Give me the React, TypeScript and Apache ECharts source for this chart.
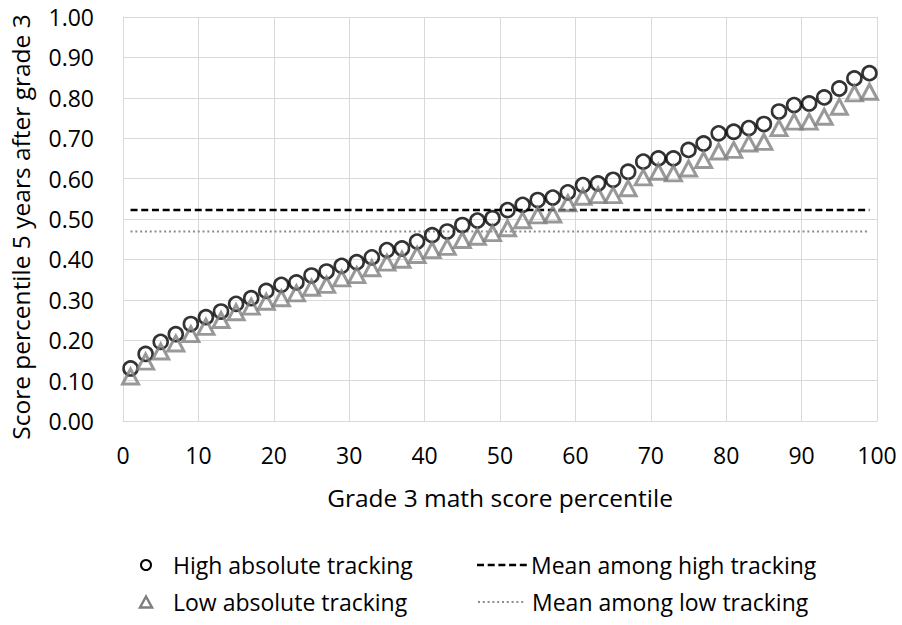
import React, { useEffect, useRef } from "react";
import * as echarts from "echarts";

const percentiles = [
  1, 3, 5, 7, 9, 11, 13, 15, 17, 19, 21, 23, 25, 27, 29, 31, 33, 35, 37, 39, 41, 43, 45, 47, 49,
  51, 53, 55, 57, 59, 61, 63, 65, 67, 69, 71, 73, 75, 77, 79, 81, 83, 85, 87, 89, 91, 93, 95, 97, 99,
];

const highTracking = [
  0.130, 0.166, 0.196, 0.215, 0.240, 0.257, 0.271, 0.290, 0.304, 0.322,
  0.337, 0.343, 0.360, 0.370, 0.384, 0.393, 0.405, 0.423, 0.427, 0.444,
  0.460, 0.469, 0.485, 0.496, 0.502, 0.522, 0.535, 0.547, 0.553, 0.566,
  0.584, 0.588, 0.597, 0.617, 0.642, 0.650, 0.650, 0.671, 0.687, 0.712,
  0.716, 0.725, 0.735, 0.766, 0.782, 0.786, 0.801, 0.823, 0.848, 0.861,
];

const lowTracking = [
  0.110, 0.147, 0.172, 0.192, 0.215, 0.233, 0.250, 0.269, 0.283, 0.295,
  0.304, 0.316, 0.330, 0.337, 0.353, 0.361, 0.378, 0.392, 0.399, 0.411,
  0.423, 0.431, 0.448, 0.456, 0.465, 0.477, 0.497, 0.509, 0.511, 0.539,
  0.555, 0.559, 0.559, 0.576, 0.603, 0.617, 0.613, 0.625, 0.646, 0.667,
  0.671, 0.687, 0.691, 0.725, 0.741, 0.741, 0.753, 0.778, 0.811, 0.815,
];

const meanHigh = 0.522;
const meanLow = 0.469;
const meanSpan = [1, 99];

const seriesNames = [
  "High absolute tracking",
  "Low absolute tracking",
  "Mean among high tracking",
  "Mean among low tracking",
];

const xAxisTitle = "Grade 3 math score percentile";
const yAxisTitle = "Score percentile 5 years after grade 3";

const FONT = "Open Sans";
const FS = 23;
const TFS = 24.5;
const GRAY = "#7f7f7f";
const DOT = "#8c8c8c";
const DASH = [7, 3.7];
const DOTS = [2, 2.8];

export default function App() {
  const ref = useRef<HTMLDivElement>(null);

  useEffect(() => {
    if (!ref.current) return;
    const chart = echarts.init(ref.current, null, { renderer: "svg" });

    const legendText = (x: number, y: number, text: string) => ({
      type: "text",
      x,
      y,
      style: {
        text,
        fill: "#000",
        font: `${FS}px "${FONT}"`,
        textVerticalAlign: "middle",
        textAlign: "left",
      },
    });

    chart.setOption({
      animation: false,
      backgroundColor: "#fff",
      textStyle: { fontFamily: FONT },
      grid: { left: 121, right: 25, top: 17, bottom: 204, containLabel: false },
      xAxis: {
        type: "value",
        min: 0,
        max: 100,
        interval: 10,
        name: xAxisTitle,
        nameLocation: "middle",
        nameGap: 64,
        nameTextStyle: { fontFamily: FONT, fontSize: TFS, color: "#000" },
        axisLine: { show: true, lineStyle: { color: "#d9d9d9", width: 1 } },
        axisTick: { show: false },
        axisLabel: { fontFamily: FONT, fontSize: FS, color: "#000", margin: 22 },
        splitLine: { show: true, lineStyle: { color: "#d9d9d9", width: 1 } },
      },
      yAxis: {
        type: "value",
        min: 0,
        max: 1,
        interval: 0.1,
        name: yAxisTitle,
        nameLocation: "middle",
        nameGap: 90,
        nameTextStyle: {
          fontFamily: FONT,
          fontSize: TFS,
          color: "#000",
          padding: [0, 16, 0, 0],
        },
        axisLine: { show: true, lineStyle: { color: "#d9d9d9", width: 1 } },
        axisTick: { show: false },
        axisLabel: {
          fontFamily: FONT,
          fontSize: FS,
          color: "#000",
          margin: 29,
          formatter: (v: number) => v.toFixed(2),
        },
        splitLine: { show: true, lineStyle: { color: "#d9d9d9", width: 1 } },
      },
      series: [
        {
          name: seriesNames[0],
          type: "scatter",
          symbol: "circle",
          symbolSize: 14,
          data: percentiles.map((x, i) => [x, highTracking[i]]),
          itemStyle: { color: "rgba(0,0,0,0)", borderColor: "#000", borderWidth: 2.6 },
          z: 3,
        },
        {
          name: seriesNames[1],
          type: "scatter",
          symbol: "triangle",
          symbolSize: [16, 15],
          data: percentiles.map((x, i) => [x, lowTracking[i]]),
          itemStyle: { color: "rgba(0,0,0,0)", borderColor: GRAY, borderWidth: 3 },
          z: 4,
        },
        {
          name: seriesNames[2],
          type: "line",
          symbol: "none",
          data: meanSpan.map((x) => [x, meanHigh]),
          lineStyle: { color: "#000", width: 2.5, type: DASH },
          z: 2,
        },
        {
          name: seriesNames[3],
          type: "line",
          symbol: "none",
          data: meanSpan.map((x) => [x, meanLow]),
          lineStyle: { color: DOT, width: 2, type: DOTS },
          z: 2,
        },
      ],
      graphic: [
        {
          type: "circle",
          shape: { cx: 146, cy: 565, r: 5 },
          style: { fill: "none", stroke: "#000", lineWidth: 2 },
        },
        legendText(173, 565, seriesNames[0]),
        {
          type: "line",
          shape: { x1: 477, y1: 565, x2: 530, y2: 565 },
          style: { stroke: "#000", lineWidth: 2.5, lineDash: DASH },
        },
        legendText(531, 565, seriesNames[2]),
        {
          type: "polygon",
          shape: { points: [[146, 596.5], [152, 607.5], [140, 607.5]] },
          style: { fill: "none", stroke: GRAY, lineWidth: 2.5 },
        },
        legendText(173, 602, seriesNames[1]),
        {
          type: "line",
          shape: { x1: 478, y1: 602, x2: 525, y2: 602 },
          style: { stroke: DOT, lineWidth: 2, lineDash: DOTS },
        },
        legendText(532, 602, seriesNames[3]),
      ],
    });

    return () => chart.dispose();
  }, []);

  return (
    <div
      ref={ref}
      style={{ position: "fixed", left: 0, top: 0, width: 902, height: 625, background: "#fff" }}
    />
  );
}
